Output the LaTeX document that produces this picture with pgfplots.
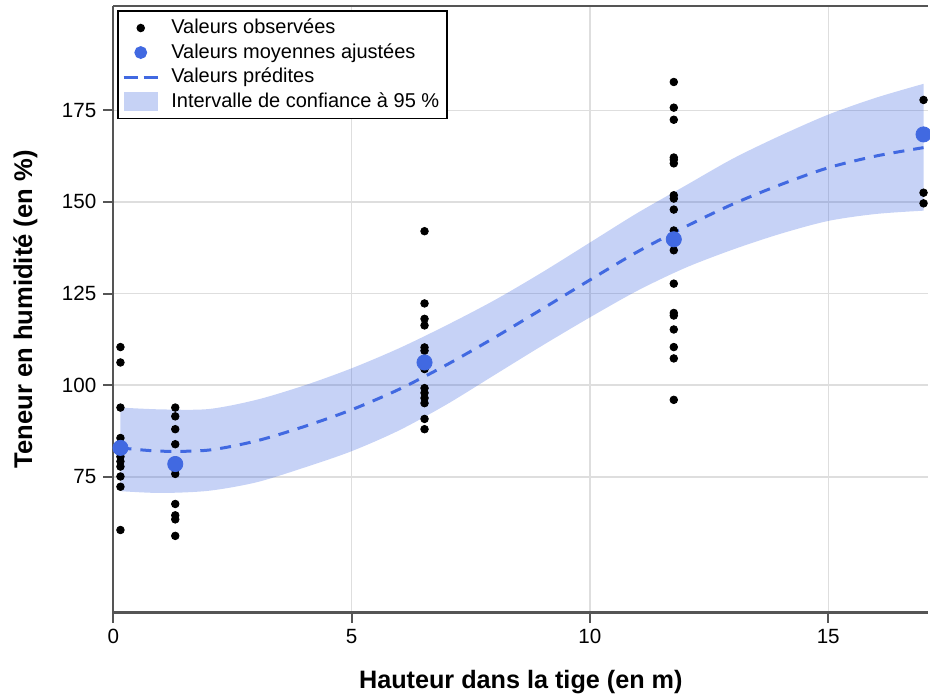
\documentclass[border=0pt]{standalone}
\usepackage{fontspec}
\setmainfont{Liberation Sans}
\usepackage{pgfplots}
\usepackage{pgfplotstable}
\pgfplotsset{compat=1.18}
\usepgfplotslibrary{fillbetween}

\definecolor{royal}{RGB}{65,105,225}
\definecolor{band}{RGB}{198,210,245}
\definecolor{axisgray}{RGB}{85,85,85}
\definecolor{gridgray}{RGB}{222,222,222}

% predicted curve and 95 % band
\pgfplotstableread{
x pred lo hi
0.15 82.9 71.1 93.9
1 82.0 70.6 93.4
2 82.3 71.2 93.5
3 84.8 73.5 96.0
4 88.7 77.5 99.9
5 93.3 82.0 104.6
6 98.9 87.7 110.1
7 105.6 94.8 116.4
8 113.0 102.8 123.2
9 120.8 110.8 130.8
10 128.7 118.5 138.9
11 136.4 125.8 147.0
12 143.2 132.0 154.4
13 149.4 137.0 161.8
14 154.7 141.3 168.1
15 159.3 144.8 173.8
16 162.5 146.7 178.4
17 164.8 147.6 182.2
}\fitdata

% observed values
\pgfplotstableread{
x y
0.15 110.4
0.15 106.2
0.15 93.9
0.15 85.6
0.15 82.5
0.15 80.5
0.15 79.2
0.15 77.8
0.15 75.1
0.15 72.3
0.15 60.5
1.3 93.9
1.3 91.5
1.3 88.0
1.3 83.9
1.3 79.5
1.3 77.0
1.3 75.8
1.3 67.6
1.3 64.5
1.3 63.4
1.3 58.9
6.53 142.0
6.53 122.3
6.53 118.1
6.53 116.3
6.53 110.3
6.53 109.4
6.53 107.0
6.53 104.4
6.53 99.2
6.53 97.9
6.53 96.5
6.53 95.1
6.53 90.8
6.53 88.0
11.76 182.7
11.76 175.7
11.76 172.4
11.76 162.1
11.76 161.5
11.76 160.5
11.76 151.8
11.76 150.9
11.76 147.9
11.76 142.2
11.76 136.8
11.76 127.7
11.76 119.7
11.76 119.0
11.76 115.2
11.76 110.4
11.76 107.3
11.76 96.0
17.0 177.8
17.0 152.5
17.0 149.6
}\obsdata

% adjusted means
\pgfplotstableread{
x y
0.15 82.9
1.3 78.5
6.53 106.2
11.76 139.8
17.0 168.4
}\meandata

\begin{document}
\begin{tikzpicture}
\begin{axis}[
    scale only axis,
    width=407.5pt, height=303.2pt,
    xmin=0, xmax=17.1,
    ymin=38, ymax=203.4,
    axis x line*=box, axis y line*=left,
    xtick pos=bottom, ytick pos=left,
    xtick={0,5,10,15},
    ytick={75,100,125,150,175},
    tick align=outside,
    major tick length=5pt,
    tick style={axisgray, line width=1pt},
    axis line style={axisgray, line width=1.2pt},
    grid=major,
    grid style={gridgray, line width=0.7pt},
    clip=false,
    tick label style={font=\fontsize{10.3}{12}\selectfont},
    /pgf/number format/assume math mode=true,
    xlabel={Hauteur dans la tige (en m)},
    ylabel={Teneur en humidité (en \%)},
    every axis x label/.style={at={(axis description cs:0.5,0)}, anchor=center,
        yshift=-35pt, font=\fontsize{12.6}{14}\selectfont\bfseries},
    every axis y label/.style={at={(axis description cs:-0.108,0.5)}, anchor=center,
        rotate=90, font=\fontsize{12.8}{14}\selectfont\bfseries},
    legend style={at={(axis description cs:0.005,0.993)}, anchor=north west,
        draw=black, line width=0.8pt, fill=white,
        font=\fontsize{10}{12}\selectfont, row sep=-0.6pt, inner sep=2pt,
        /tikz/every odd column/.append style={column sep=4pt}},
    legend cell align=left,
]
\addplot[name path=lo, draw=none, smooth, forget plot] table[x=x, y=lo] {\fitdata};
\addplot[name path=hi, draw=none, smooth, forget plot] table[x=x, y=hi] {\fitdata};
\addplot[fill=royal, fill opacity=0.3, draw=none, forget plot] fill between[of=hi and lo];
\addplot[royal, smooth, line width=1.5pt, dash pattern=on 5.5pt off 4.5pt, forget plot]
    table[x=x, y=pred] {\fitdata};
\addplot[only marks, mark=*, mark size=1.9pt, black, forget plot] table[x=x, y=y] {\obsdata};
\addplot[only marks, mark=*, mark size=3.8pt, royal, forget plot] table[x=x, y=y] {\meandata};

\addlegendimage{only marks, mark=*, mark size=1.7pt, black}
\addlegendentry{Valeurs observées}
\addlegendimage{only marks, mark=*, mark size=2.8pt, royal}
\addlegendentry{Valeurs moyennes ajustées}
\addlegendimage{royal, line width=1.5pt, dash pattern=on 7pt off 3pt}
\addlegendentry{Valeurs prédites}
\addlegendimage{legend image code/.code={\path[fill=band, draw=none] (0cm,-0.16cm) rectangle (0.6cm,0.16cm);}}
\addlegendentry{Intervalle de confiance à 95 \%}
\end{axis}
\pgfresetboundingbox
\useasboundingbox (current axis.south west) ++(-56.65pt,-41.75pt) rectangle ++(465pt,348pt);
\end{tikzpicture}
\end{document}
